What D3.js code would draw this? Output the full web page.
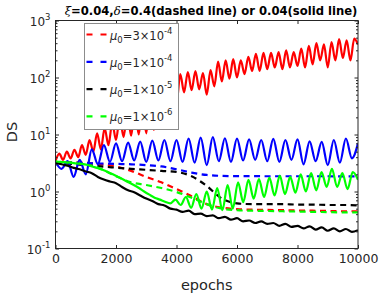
<!DOCTYPE html>
<html>
<head>
<meta charset="utf-8">
<script src="https://cdn.jsdelivr.net/npm/d3@7"></script>
<style>
  body { margin: 0; background: #fff; }
  svg { display: block; font-family: "DejaVu Sans", sans-serif; }
</style>
</head>
<body>
<svg width="381" height="296"></svg>
<script>
// axis ticks
const xTicks = [0, 2000, 4000, 6000, 8000, 10000];
const yTicks = [0.1, 1, 10, 100, 1000];

// legend text: mu0 = m x 10^e
const legendMantissa = ["3", "1", "1", "1"];
const legendExponent = ["-4", "-4", "-5", "-6"];

// dashed lines (delta = 0.4), one value every 500 epochs
const dashedStep = 500;
const redDashed   = [3.2, 3.25, 3.2, 3.0, 2.75, 2.3, 1.8, 1.45, 1.1, 0.83, 0.6, 0.52, 0.49, 0.48, 0.475, 0.47, 0.465, 0.46, 0.455, 0.45, 0.45];
const blueDashed  = [3.2, 3.2, 3.15, 3.1, 3.05, 3.0, 2.9, 2.75, 2.45, 2.15, 1.95, 1.88, 1.86, 1.86, 1.85, 1.85, 1.85, 1.85, 1.85, 1.84, 1.84];
const blackDashed = [3.2, 3.05, 2.9, 2.75, 2.62, 2.5, 2.4, 2.3, 2.2, 1.85, 1.25, 0.75, 0.62, 0.6, 0.6, 0.6, 0.59, 0.59, 0.58, 0.58, 0.57];
const greenDashed = [3.2, 3.2, 3.0, 2.5, 1.85, 1.45, 1.3, 1.15, 0.98, 0.78, 0.6, 0.5, 0.47, 0.46, 0.455, 0.45, 0.445, 0.44, 0.435, 0.43, 0.43];

// solid lines (delta = 0.04), peaks and troughs
const redSolidStep = 125;
const redSolid = [
  3.4, 4.6, 3.6, 5.0, 3.8, 5.4, 4.0, 6.5, 4.4, 8.0,
  5.0, 10.5, 5.5, 13, 6.5, 16, 8, 20, 9, 24,
  9.5, 28, 10, 32, 10.5, 38, 12, 45, 15, 60,
  22, 85, 35, 115, 55, 125, 60, 130, 62, 120,
  50, 135, 70, 190, 85, 200, 95, 210, 100, 200,
  115, 230, 130, 260, 130, 270, 140, 270, 150, 280,
  140, 300, 150, 280, 160, 320, 150, 360, 170, 400,
  200, 380, 150, 420, 200, 470, 220, 450, 200, 480,
  380
];
const blueSolidStep = 200;
const blueSolid = [
  3.3, 2.5, 3.4, 1.8, 3.6, 2.0, 5.5, 3.0, 6.5, 3.3,
  7.0, 3.4, 7.2, 3.5, 7.5, 3.3, 7.8, 3.5, 8.0, 3.4,
  8.0, 3.3, 8.5, 3.2, 8.8, 2.9, 9.0, 3.4, 8.6, 3.3,
  8.5, 3.5, 8.2, 3.6, 8.0, 3.4, 8.4, 3.3, 8.0, 3.6,
  8.2, 3.0, 7.6, 3.4, 7.4, 2.9, 8.0, 3.2, 8.5, 3.8,
  7.0
];
const blackSolidStep = 200;
const blackSolid = [
  3.2, 3.0, 2.85, 2.6, 2.45, 2.25, 2.1, 1.8, 1.62, 1.5,
  1.4, 1.2, 1.05, 0.97, 0.85, 0.75, 0.68, 0.6, 0.57, 0.5,
  0.48, 0.44, 0.46, 0.4, 0.41, 0.37, 0.38, 0.34, 0.36, 0.32,
  0.34, 0.3, 0.31, 0.28, 0.3, 0.27, 0.28, 0.25, 0.27, 0.24,
  0.25, 0.225, 0.245, 0.215, 0.235, 0.205, 0.225, 0.2, 0.22, 0.195,
  0.21
];
const greenSolidStep = 10000 / 58;
const greenSolid = [
  3.4, 3.3, 3.25, 3.2, 3.1, 3.05, 2.95, 2.75, 2.6, 2.4,
  2.2, 2.0, 1.8, 1.62, 1.45, 1.3, 1.15, 1.0, 0.88, 0.78,
  0.72, 0.66, 0.62, 0.72, 0.58, 0.8, 0.52, 0.9, 0.5, 1.0,
  0.48, 1.15, 0.47, 1.3, 0.5, 1.45, 0.65, 1.6, 0.75, 1.65,
  0.8, 1.75, 0.85, 1.9, 0.9, 1.8, 0.95, 2.0, 1.0, 2.1,
  1.05, 2.2, 1.2, 2.5, 1.2, 2.1, 1.1, 2.2, 1.6
];

const colors = ["#ff0000", "#0000ff", "#000000", "#00ff00"];
const axisColor = "#262626";

const svg = d3.select("svg");
svg.append("rect").attr("width", 381).attr("height", 296).attr("fill", "#fff");

const plotLeft = 55.5, plotRight = 358, plotTop = 20.5, plotBottom = 248.5;

const x = d3.scaleLinear().domain([0, 10000]).range([plotLeft, plotRight]);
const y = d3.scaleLog().domain([0.1, 1000]).range([plotBottom, plotTop]);

svg.append("clipPath").attr("id", "plot")
  .append("rect")
  .attr("x", plotLeft).attr("y", plotTop)
  .attr("width", plotRight - plotLeft).attr("height", plotBottom - plotTop);

// lines
const series = [
  { values: redDashed,   step: dashedStep, color: colors[0], dashed: true },
  { values: blueDashed,  step: dashedStep, color: colors[1], dashed: true },
  { values: blackDashed, step: dashedStep, color: colors[2], dashed: true },
  { values: greenDashed, step: dashedStep, color: colors[3], dashed: true },
  { values: redSolid,   step: redSolidStep,   color: colors[0], dashed: false },
  { values: blueSolid,  step: blueSolidStep,  color: colors[1], dashed: false },
  { values: blackSolid, step: blackSolidStep, color: colors[2], dashed: false },
  { values: greenSolid, step: greenSolidStep, color: colors[3], dashed: false }
];

const linesG = svg.append("g").attr("clip-path", "url(#plot)");

series.forEach(s => {
  const line = d3.line()
    .x((d, i) => x(i * s.step))
    .y(d => y(d))
    .curve(d3.curveMonotoneX);
  linesG.append("path")
    .datum(s.values)
    .attr("d", line)
    .attr("fill", "none")
    .attr("stroke", s.color)
    .attr("stroke-width", 2.2)
    .attr("stroke-linejoin", "round")
    .attr("stroke-dasharray", s.dashed ? "6,4.5" : null);
});

// axes
const minorTicks = y.ticks().filter(d => yTicks.indexOf(d) < 0);

function styleAxis(g) {
  g.select(".domain").remove();
  g.selectAll("line").attr("stroke", axisColor);
  g.selectAll("text").attr("fill", axisColor);
}

svg.append("g")
  .attr("transform", "translate(0," + plotBottom + ")")
  .call(d3.axisBottom(x).tickValues(xTicks).tickFormat(d3.format("d")).tickSizeInner(-3.5).tickSizeOuter(0).tickPadding(6))
  .attr("font-size", 12.5).attr("font-family", null)
  .call(styleAxis);

svg.append("g")
  .attr("transform", "translate(0," + plotTop + ")")
  .call(d3.axisTop(x).tickValues(xTicks).tickFormat("").tickSizeInner(-3.5).tickSizeOuter(0))
  .call(styleAxis);

svg.append("g")
  .attr("transform", "translate(" + plotLeft + ",0)")
  .call(d3.axisLeft(y).tickValues(minorTicks).tickFormat("").tickSizeInner(-2).tickSizeOuter(0))
  .call(styleAxis);

svg.append("g")
  .attr("transform", "translate(" + plotRight + ",0)")
  .call(d3.axisRight(y).tickValues(minorTicks).tickFormat("").tickSizeInner(-2).tickSizeOuter(0))
  .call(styleAxis);

svg.append("g")
  .attr("transform", "translate(" + plotRight + ",0)")
  .call(d3.axisRight(y).tickValues(yTicks).tickFormat("").tickSizeInner(-3.5).tickSizeOuter(0))
  .call(styleAxis);

const yAxisG = svg.append("g")
  .attr("transform", "translate(" + plotLeft + ",0)")
  .call(d3.axisLeft(y).tickValues(yTicks).tickSizeInner(-3.5).tickSizeOuter(0).tickPadding(5))
  .attr("font-size", 12).attr("font-family", null)
  .call(styleAxis);

yAxisG.selectAll(".tick text").each(function(d) {
  const t = d3.select(this);
  t.text(null).attr("dy", 5);
  t.append("tspan").text("10");
  t.append("tspan").attr("dy", -6.5).attr("font-size", 8.5).text(Math.round(Math.log10(d)));
});

// box
svg.append("rect")
  .attr("x", plotLeft).attr("y", plotTop)
  .attr("width", plotRight - plotLeft).attr("height", plotBottom - plotTop)
  .attr("fill", "none").attr("stroke", axisColor).attr("stroke-width", 1);

// legend
const legend = svg.append("g");
legend.append("rect")
  .attr("x", 84.5).attr("y", 23.5).attr("width", 94).attr("height", 106)
  .attr("fill", "#fff").attr("stroke", "#8c8c8c").attr("stroke-width", 1);

legendMantissa.forEach((m, i) => {
  const ly = 34.5 + i * 27.3;
  legend.append("line")
    .attr("x1", 86.5).attr("x2", 107).attr("y1", ly).attr("y2", ly)
    .attr("stroke", colors[i]).attr("stroke-width", 2.2)
    .attr("stroke-dasharray", "6,8");
  const t = legend.append("text")
    .attr("x", 110).attr("y", ly + 5)
    .attr("font-size", 11.5).attr("fill", axisColor);
  t.append("tspan").attr("font-style", "italic").text("\u03bc");
  t.append("tspan").attr("font-size", 8.5).attr("dy", 3).text("0");
  t.append("tspan").attr("dy", -3).text("=" + m + "\u00d710");
  t.append("tspan").attr("font-size", 8.5).attr("dy", -6).text(legendExponent[i]);
});

// title
const title = svg.append("text")
  .attr("x", 211).attr("y", 15)
  .attr("text-anchor", "middle")
  .attr("font-size", 11.6).attr("font-weight", "bold").attr("fill", "#000");
title.append("tspan").attr("font-family", "DejaVu Serif").attr("font-style", "italic").attr("font-weight", "normal").text("\u03be");
title.append("tspan").text("=0.04,");
title.append("tspan").attr("font-family", "DejaVu Serif").attr("font-style", "italic").attr("font-weight", "normal").text("\u03b4");
title.append("tspan").text("=0.4(dashed line) or 0.04(solid line)");

// axis labels
svg.append("text")
  .attr("x", (plotLeft + plotRight) / 2).attr("y", 290)
  .attr("text-anchor", "middle").attr("font-size", 14.5).attr("fill", axisColor)
  .text("epochs");

svg.append("text")
  .attr("transform", "translate(17,132) rotate(-90)")
  .attr("text-anchor", "middle").attr("font-size", 14.5).attr("fill", axisColor)
  .text("DS");
</script>
</body>
</html>
